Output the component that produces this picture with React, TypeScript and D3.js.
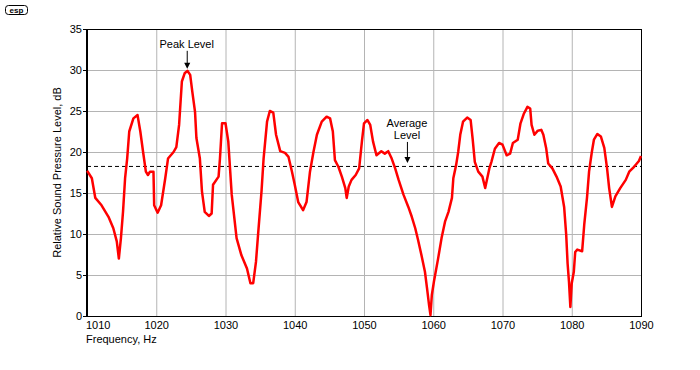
import React from 'react';
import * as d3 from 'd3';

const freq = [
  1010.0, 1010.1, 1010.7, 1011.2, 1012.1, 1013.1, 1013.8, 1014.3, 1014.6, 1014.9,
  1015.2, 1015.5, 1015.8, 1016.1, 1016.7, 1017.3, 1017.7, 1018.1, 1018.5, 1018.8,
  1019.1, 1019.6, 1019.7, 1020.2, 1020.7, 1021.3, 1021.7, 1022.5, 1022.9, 1023.3,
  1023.7, 1024.1, 1024.5, 1024.9, 1025.2, 1025.6, 1025.8, 1026.3, 1026.6, 1027.0,
  1027.6, 1028.0, 1028.2, 1029.0, 1029.2, 1029.5, 1030.0, 1030.4, 1030.9, 1031.6,
  1032.3, 1033.1, 1033.6, 1034.0, 1034.4, 1034.7, 1035.2, 1035.5, 1036.0, 1036.4,
  1036.9, 1037.3, 1037.9, 1038.6, 1039.1, 1039.6, 1040.0, 1040.5, 1041.2, 1041.7,
  1042.2, 1042.7, 1043.2, 1043.9, 1044.6, 1045.1, 1045.5, 1045.8, 1046.3, 1046.8,
  1047.3, 1047.5, 1047.8, 1048.2, 1048.8, 1049.3, 1049.7, 1050.0, 1050.5, 1050.9,
  1051.3, 1051.8, 1052.5, 1053.0, 1053.5, 1054.0, 1054.5, 1055.0, 1055.7, 1056.4,
  1056.9, 1057.4, 1057.8, 1058.3, 1058.8, 1059.1, 1059.4, 1059.6, 1059.8, 1060.1,
  1060.7, 1061.2, 1061.7, 1062.2, 1062.7, 1062.9, 1063.3, 1063.6, 1063.9, 1064.3,
  1064.9, 1065.4, 1065.7, 1066.0, 1066.5, 1067.1, 1067.5, 1067.8, 1068.1, 1068.4,
  1068.9, 1069.5, 1070.0, 1070.6, 1071.1, 1071.5, 1072.2, 1072.6, 1073.1, 1073.6,
  1074.0, 1074.2, 1074.6, 1075.1, 1075.6, 1075.9, 1076.3, 1076.6, 1077.2, 1077.8,
  1078.4, 1078.9, 1079.2, 1079.4, 1079.6, 1079.8, 1080.0, 1080.3, 1080.5, 1080.8,
  1081.5, 1081.8, 1082.2, 1082.5, 1082.9, 1083.2, 1083.7, 1084.2, 1084.7, 1085.1,
  1085.4, 1085.8, 1086.3, 1087.0, 1087.8, 1088.3, 1089.0, 1089.7, 1090.0,
];

const level = [
  17.7, 17.6, 16.8, 14.4, 13.5, 12.1, 10.7, 9.1, 7.0, 9.5,
  12.7, 16.8, 19.2, 22.5, 24.1, 24.5, 22.5, 20.0, 17.6, 17.2,
  17.6, 17.6, 13.5, 12.6, 13.5, 16.8, 19.2, 20.0, 20.6, 23.3,
  28.6, 29.6, 29.9, 29.4, 27.4, 24.9, 21.7, 19.2, 15.2, 12.7,
  12.2, 12.5, 16.0, 17.0, 19.2, 23.5, 23.5, 21.3, 14.8, 9.5,
  7.4, 5.8, 4.0, 4.0, 6.6, 9.9, 15.2, 19.2, 23.7, 25.0,
  24.8, 22.1, 20.1, 19.9, 19.4, 17.6, 16.0, 13.9, 12.9, 13.9,
  17.6, 20.0, 22.1, 23.7, 24.3, 24.1, 22.5, 19.0, 18.2, 17.0,
  15.6, 14.4, 15.8, 16.6, 17.2, 18.0, 21.3, 23.5, 23.9, 23.3,
  21.3, 19.6, 20.1, 19.8, 20.1, 19.2, 18.0, 16.6, 14.8, 13.3,
  12.1, 10.7, 9.3, 7.4, 5.4, 3.4, 1.3, 0.1, 2.6, 4.2,
  7.0, 9.5, 11.5, 12.7, 14.4, 16.8, 18.4, 20.0, 22.1, 23.7,
  24.2, 23.9, 21.5, 18.8, 17.6, 17.0, 15.6, 16.8, 18.0, 18.8,
  20.4, 21.1, 20.9, 19.6, 19.8, 21.1, 21.5, 23.5, 24.7, 25.5,
  25.3, 23.3, 22.1, 22.6, 22.7, 22.1, 20.5, 18.6, 18.0, 17.0,
  15.8, 13.3, 9.9, 6.4, 4.2, 1.1, 4.0, 5.4, 7.8, 8.1,
  7.9, 11.1, 14.4, 17.6, 20.0, 21.5, 22.2, 21.9, 20.5, 18.0,
  15.6, 13.3, 14.6, 15.6, 16.6, 17.6, 18.2, 18.9, 19.5,
];

const xTicks = [1010, 1020, 1030, 1040, 1050, 1060, 1070, 1080, 1090];
const yTicks = [0, 5, 10, 15, 20, 25, 30, 35];
const averageLevel = 18.3;
const peakFreq = 1024.4;
const peakLevel = 29.9;
const averageLabelFreq = 1056.2;

const W = 700;
const H = 370;
const left = 87, right = 641, top = 29, bottom = 316;
const font = '"Liberation Sans", Arial, sans-serif';

export default function App() {
  const x = d3.scaleLinear().domain([1010, 1090]).range([left, right]);
  const y = d3.scaleLinear().domain([0, 35]).range([bottom, top]);

  const line = d3.line<number>()
    .x((_, i) => x(freq[i]))
    .y(d => y(d));

  const px = x(peakFreq);
  const py = y(peakLevel);
  const ax = x(averageLabelFreq);
  const ay = y(averageLevel);

  return (
    <svg width={W} height={H} style={{ position: 'absolute', left: 0, top: 0, background: '#fff' }}
      fontFamily={font} fontSize={11}>
      {/* logo */}
      <g>
        <rect x={5.5} y={5.5} width={22} height={9} rx={3} fill="none" stroke="#000" strokeWidth={1} />
        <text x={16.5} y={13} textAnchor="middle" fontSize={8} fontWeight="bold">esp</text>
      </g>

      {/* grid */}
      {xTicks.slice(1, -1).map(t => (
        <line key={'gx' + t} x1={x(t) + 0.5} x2={x(t) + 0.5} y1={top} y2={bottom} stroke="#b4b4b4" />
      ))}
      {yTicks.slice(1, -1).map(t => (
        <line key={'gy' + t} x1={left} x2={right} y1={y(t) + 0.5} y2={y(t) + 0.5} stroke="#b4b4b4" />
      ))}

      {/* frame */}
      <line x1={left} x2={right + 1} y1={top + 0.5} y2={top + 0.5} stroke="#000" />
      <line x1={left} x2={right + 1} y1={bottom + 0.5} y2={bottom + 0.5} stroke="#000" />
      <line x1={right + 0.5} x2={right + 0.5} y1={top} y2={bottom + 1} stroke="#000" />
      <line x1={left} x2={left} y1={top} y2={bottom + 1} stroke="#000" strokeWidth={2} />

      {/* y ticks */}
      {yTicks.map(t => (
        <g key={'ty' + t}>
          <line x1={left - 4} x2={left} y1={y(t) + 0.5} y2={y(t) + 0.5} stroke="#000" />
          <text x={left - 5} y={y(t) + 4} textAnchor="end">{t}</text>
        </g>
      ))}

      {/* x ticks */}
      {xTicks.map((t, i) => (
        <text key={'tx' + t} x={i === 0 ? x(t) - 1 : x(t) + 0.5} y={bottom + 13}
          textAnchor={i === 0 ? 'start' : 'middle'}>{t}</text>
      ))}

      {/* average level */}
      <line x1={left} x2={right} y1={ay + 0.5} y2={ay + 0.5} stroke="#000" strokeDasharray="4,3" />

      {/* response */}
      <path d={line(level) || ''} fill="none" stroke="#ff0000" strokeWidth={2.5} strokeLinejoin="round" />

      {/* annotations */}
      <text x={px} y={py - 23} textAnchor="middle">Peak Level</text>
      <line x1={px + 0.5} x2={px + 0.5} y1={py - 20} y2={py - 5} stroke="#000" />
      <path d={`M${px - 2.5},${py - 8} L${px + 3.5},${py - 8} L${px + 0.5},${py - 2} Z`} fill="#000" />

      <text x={ax} y={ay - 39} textAnchor="middle">Average</text>
      <text x={ax} y={ay - 27} textAnchor="middle">Level</text>
      <line x1={ax + 0.5} x2={ax + 0.5} y1={ay - 24} y2={ay - 6} stroke="#000" />
      <path d={`M${ax - 2.5},${ay - 9} L${ax + 3.5},${ay - 9} L${ax + 0.5},${ay - 3} Z`} fill="#000" />

      {/* axis titles */}
      <text x={left - 1} y={bottom + 27}>Frequency, Hz</text>
      <text transform={`translate(61,${(top + bottom) / 2}) rotate(-90)`} textAnchor="middle">
        Relative Sound Pressure Level, dB
      </text>
    </svg>
  );
}
